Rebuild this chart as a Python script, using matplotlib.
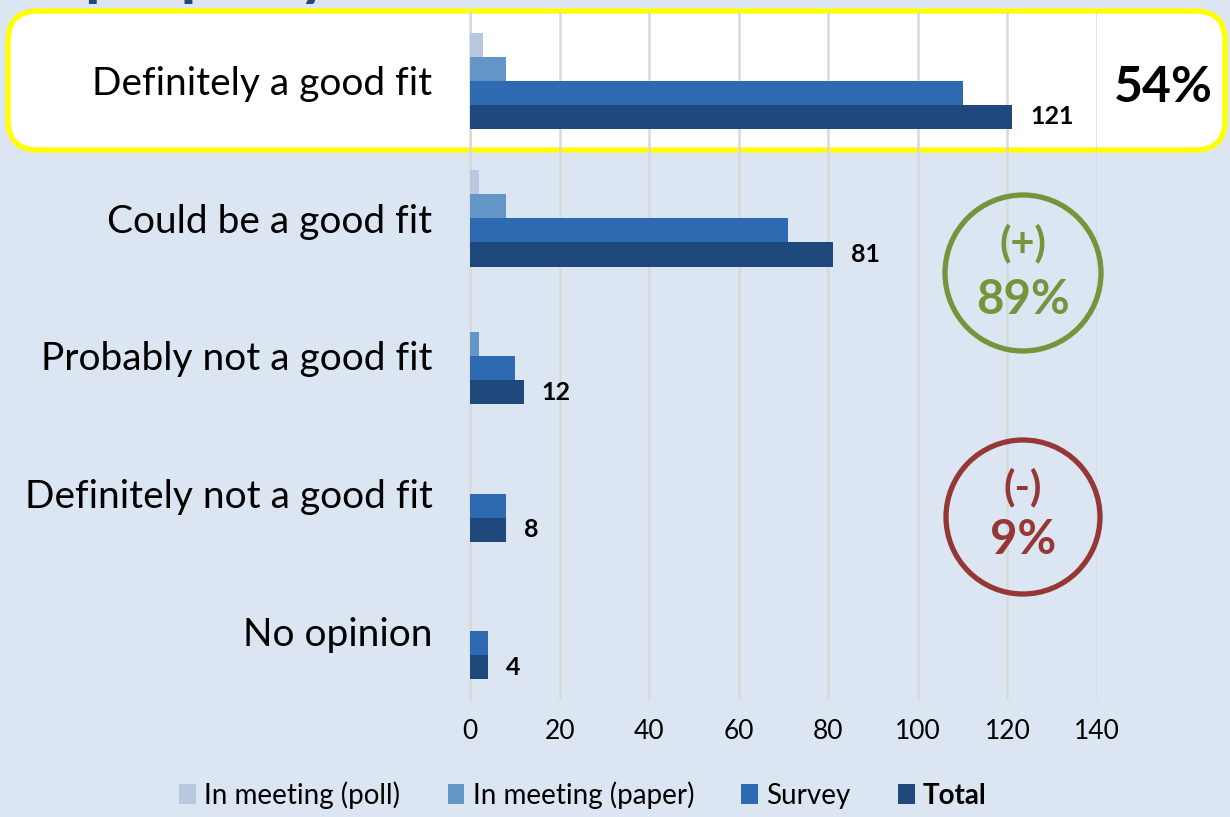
import matplotlib.pyplot as plt
from matplotlib.patches import FancyBboxPatch, Circle, Patch

categories = ["Definitely a good fit", "Could be a good fit", "Probably not a good fit",
              "Definitely not a good fit", "No opinion"]
poll = [3, 2, 0, 0, 0]
paper = [8, 8, 2, 0, 0]
survey = [110, 71, 10, 8, 4]
total = [121, 81, 12, 8, 4]
series_names = ["In meeting (poll)", "In meeting (paper)", "Survey", "Total"]
colors = ["#B9C7E0", "#6495C7", "#2E6AB1", "#1F497D"]
xticks = [0, 20, 40, 60, 80, 100, 120, 140]

plt.rcParams["font.family"] = ["Lato", "DejaVu Sans"]

bg = "#DCE6F2"
fig = plt.figure(figsize=(12.3, 8.17), dpi=100, facecolor=bg)
ax = fig.add_axes([470 / 1230, 1 - 700 / 817, (1097 - 470) / 1230, (700 - 12) / 817], zorder=2)
ax.patch.set_visible(False)

# white highlight box behind the first category
box = FancyBboxPatch((0.08, 6.67), 12.17, 1.39, boxstyle="round,pad=0,rounding_size=0.3",
                     transform=fig.dpi_scale_trans, facecolor="white", edgecolor="#FFFF00",
                     linewidth=3.8, zorder=-1)
fig.patches.append(box)

# cut-off title at top
fig.text(84 / 1230, 1 + 6 / 817, "property", fontsize=46, fontweight="bold", color="#1F497D",
         ha="left", va="baseline")

h = 0.175
pos = list(range(len(categories)))
for i, (vals, c) in enumerate(zip([poll, paper, survey, total], colors)):
    ax.barh([p + (i - 1.5) * h for p in pos], vals, height=h, color=c, zorder=3)

for p, v in zip(pos, total):
    ax.annotate(str(v), (v, p + 1.5 * h), xytext=(13, 0), textcoords="offset points",
                ha="left", va="center", fontsize=18, fontweight="bold", color="black")

ax.set_xlim(0, 140)
ax.set_ylim(len(categories) - 0.5, -0.5)
ax.set_xticks(xticks)
ax.set_xticklabels([str(t) for t in xticks], fontsize=19)
ax.set_yticks(pos)
ax.set_yticklabels(categories, fontsize=28)
ax.tick_params(axis="y", length=0, pad=27)
ax.tick_params(axis="x", length=0, pad=14)
ax.grid(axis="x", color="#D9D9D9", linewidth=1.8, zorder=0)
for s in ["top", "right", "bottom"]:
    ax.spines[s].set_visible(False)
ax.spines["left"].set_color("#D9D9D9")
ax.spines["left"].set_linewidth(1.8)

# right side annotations
fig.text(1163 / 1230, 1 - 87 / 817, "54%", fontsize=36, fontweight="bold", color="black",
         ha="center", va="center")
green = "#77933C"
red = "#953735"
fig.patches.append(Circle((10.23, 5.44), 0.78, transform=fig.dpi_scale_trans, fill=False,
                          edgecolor=green, linewidth=3.8, zorder=3))
fig.patches.append(Circle((10.23, 3.00), 0.77, transform=fig.dpi_scale_trans, fill=False,
                          edgecolor=red, linewidth=3.8, zorder=3))
fig.text(1023 / 1230, 1 - 243 / 817, "(+)", fontsize=30, fontweight="bold", color=green, ha="center", va="center")
fig.text(1023 / 1230, 1 - 300 / 817, "89%", fontsize=34, fontweight="bold", color=green, ha="center", va="center")
fig.text(1023 / 1230, 1 - 487 / 817, "(-)", fontsize=30, fontweight="bold", color=red, ha="center", va="center")
fig.text(1023 / 1230, 1 - 540 / 817, "9%", fontsize=34, fontweight="bold", color=red, ha="center", va="center")

handles = [Patch(facecolor=c) for c in colors]
leg = fig.legend(handles, series_names, loc="center", bbox_to_anchor=(0.474, 1 - 795 / 817), ncol=4,
                 frameon=False, fontsize=20, handlelength=0.6, handleheight=0.7, handletextpad=0.3,
                 columnspacing=1.7)
leg.get_texts()[3].set_fontweight("bold")

plt.savefig("out.png", dpi=100, facecolor=bg)
